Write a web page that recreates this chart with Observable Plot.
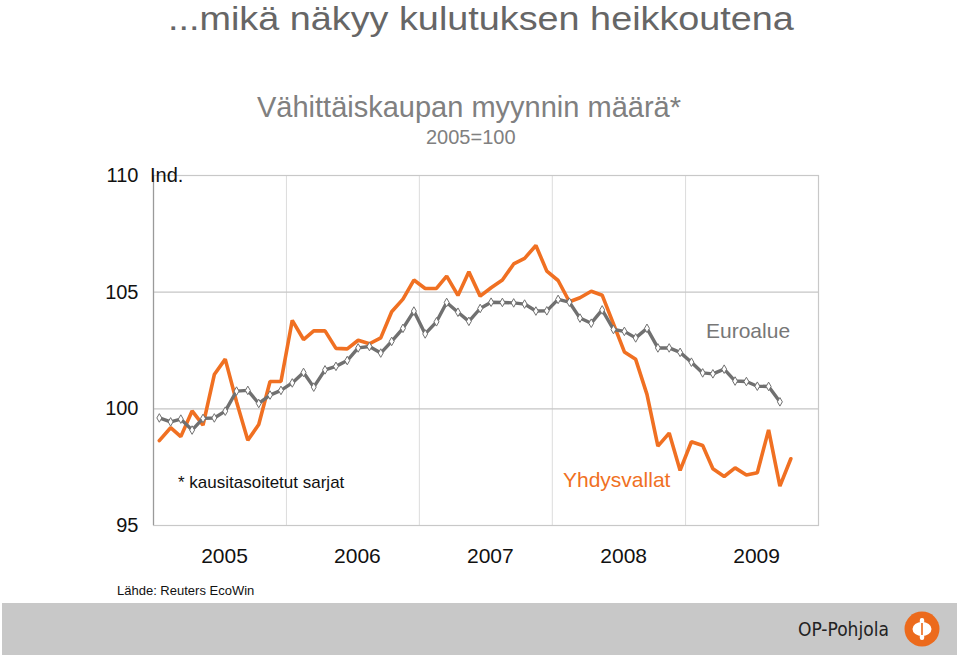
<!DOCTYPE html>
<html><head><meta charset="utf-8">
<script src="https://cdn.jsdelivr.net/npm/d3@7"></script>
<script src="https://cdn.jsdelivr.net/npm/@observablehq/plot@0.6"></script>
<style>
body{margin:0;background:#fff;font-family:"Liberation Sans",Arial,Helvetica,sans-serif;}
#wrap{position:relative;width:959px;height:656px;overflow:hidden;background:#fff;}
.abs{position:absolute;white-space:nowrap;line-height:1;}
#chart{position:absolute;left:0;top:0;}
</style></head><body>
<div id="wrap">
  <div id="chart"></div>
  <div class="abs" style="left:168px;top:0px;font-size:33px;line-height:normal;color:#666;transform:scaleX(1.145);transform-origin:left top;">...mikä näkyy kulutuksen heikkoutena</div>
  <div class="abs" style="left:257px;top:93px;font-size:29px;color:#808080;">Vähittäiskaupan myynnin määrä*</div>
  <div class="abs" style="left:426px;top:127px;font-size:20px;color:#808080;">2005=100</div>
  <div class="abs" style="left:150px;top:165px;font-size:20px;color:#111;">Ind.</div>
  <div class="abs" style="left:706px;top:320px;font-size:21px;color:#777;">Euroalue</div>
  <div class="abs" style="left:563px;top:469px;font-size:21px;color:#f07022;">Yhdysvallat</div>
  <div class="abs" style="left:178px;top:474px;font-size:17px;color:#111;">* kausitasoitetut sarjat</div>
  <div class="abs" style="left:117px;top:584px;font-size:13px;color:#111;">Lähde: Reuters EcoWin</div>
  <div class="abs" style="left:2px;top:603px;width:955px;height:52px;background:#c8c8c8;"></div>
  <div class="abs" style="left:798px;top:620px;font-size:19px;color:#222;font-family:'DejaVu Sans Condensed','DejaVu Sans',sans-serif;font-stretch:condensed;">OP-Pohjola</div>
  <svg class="abs" style="left:904px;top:611px;" width="36" height="36" viewBox="0 0 36 36">
    <circle cx="18" cy="18" r="17.5" fill="#ec6a1c"/>
    <rect x="15.8" y="7" width="4.4" height="22" rx="2" fill="#fff"/>
    <ellipse cx="18" cy="18" rx="9.5" ry="7" fill="#fff"/>
    <rect x="17.2" y="12" width="1.6" height="12" fill="#ec6a1c"/>
  </svg>
</div>
<script>
// Vähittäiskaupan myynnin määrä, 2005=100, kuukausittain alkaen 1/2005
const euroalue = [99.61,99.44,99.56,99.09,99.59,99.61,99.90,100.76,100.79,100.23,100.59,100.79,
  101.11,101.56,100.93,101.67,101.82,102.07,102.61,102.67,102.39,102.89,103.45,104.19,
  103.21,103.73,104.56,104.14,103.75,104.30,104.57,104.56,104.54,104.49,104.19,104.20,
  104.69,104.57,103.89,103.67,104.24,103.40,103.32,103.04,103.45,102.61,102.61,102.42,
  102.00,101.54,101.50,101.70,101.19,101.17,100.97,100.96,100.30];
const yhdysvallat = [98.64,99.19,98.81,99.91,99.30,101.47,102.13,100.30,98.65,99.33,101.17,101.17,
  103.79,102.97,103.34,103.34,102.59,102.57,102.94,102.79,103.04,104.16,104.70,105.52,
  105.16,105.16,105.69,104.86,105.87,104.83,105.19,105.52,106.21,106.45,107.00,105.90,
  105.50,104.59,104.76,105.04,104.87,103.64,102.44,102.12,100.62,98.40,98.96,97.36,
  98.59,98.43,97.43,97.10,97.47,97.16,97.26,99.10,96.69,97.86];
const years = [2005, 2006, 2007, 2008, 2009];
const yTicks = [95, 100, 105, 110];
const startYear = 2005, startMonth = 0;

const month = i => new Date(Date.UTC(startYear, startMonth + i, 17));
const euroData = euroalue.map((v, i) => ({date: month(i), value: v}));
const usData = yhdysvallat.map((v, i) => ({date: month(i), value: v}));
const yearTicks = years.map(y => new Date(Date.UTC(y, 6, 15)));
const yearBounds = years.slice(1).map(y => new Date(Date.UTC(y, 0, 1)));

const chart = Plot.plot({
  width: 959,
  height: 600,
  marginLeft: 153,
  marginRight: 141,
  marginTop: 175,
  marginBottom: 75,
  style: {fontFamily: "Liberation Sans, Arial, sans-serif", color: "#111", background: "transparent"},
  x: {type: "utc", domain: [new Date(Date.UTC(years[0], 0, 1)), new Date(Date.UTC(years[years.length-1] + 1, 0, 1))]},
  y: {domain: [yTicks[0], yTicks[yTicks.length-1]]},
  marks: [
    Plot.ruleX(yearBounds, {stroke: "#dcdcdc", strokeWidth: 1}),
    Plot.ruleY(yTicks.slice(1, -1), {stroke: "#c6c6c6", strokeWidth: 1.2}),
    Plot.frame({stroke: "#c8c8c8", strokeWidth: 1.2}),
    Plot.ruleX([new Date(Date.UTC(years[0], 0, 1))], {stroke: "#9a9a9a", strokeWidth: 1.2}),
    Plot.axisY(yTicks, {tickSize: 0, tickPadding: 15, fontSize: 20, fill: "#111", label: null}),
    Plot.axisX(yearTicks, {tickSize: 0, tickPadding: 23, fontSize: 21, fill: "#111", label: null, tickFormat: d => String(d.getUTCFullYear())}),
    Plot.line(usData, {x: "date", y: "value", stroke: "#f07022", strokeWidth: 3.6, strokeLinejoin: "miter"}),
    Plot.line(euroData, {x: "date", y: "value", stroke: "#707070", strokeWidth: 3.4}),
    Plot.dot(euroData, {x: "date", y: "value", symbol: "diamond", r: 2.6, fill: "#fff", stroke: "#707070", strokeWidth: 1})
  ]
});
document.getElementById("chart").appendChild(chart);
</script>
</body></html>
